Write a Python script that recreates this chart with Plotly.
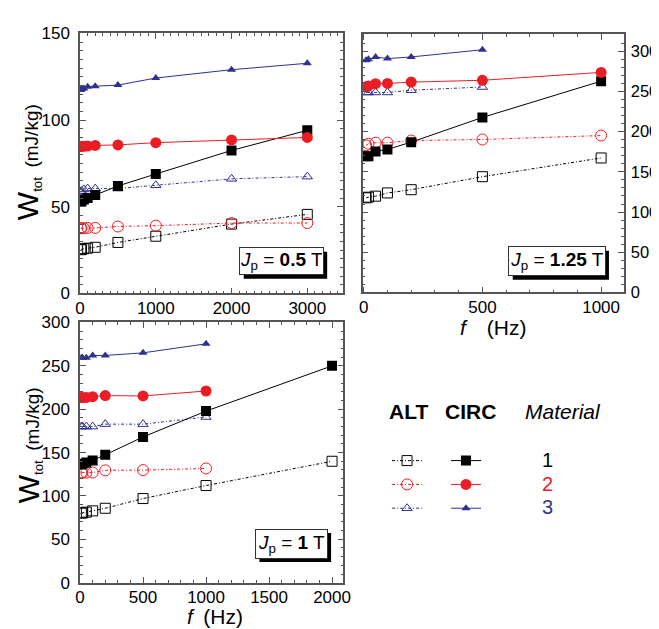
import plotly.graph_objects as go

# ---------------- data ----------------
# Panel A: Jp = 0.5 T
fA = [10, 20, 50, 100, 200, 500, 1000, 2000, 3000]
A_alt1 = [25.2, 25.5, 25.8, 26.1, 26.6, 29.4, 33.0, 40.0, 45.6]
A_alt2 = [37.6, 37.6, 37.6, 37.8, 37.8, 38.6, 39.1, 40.6, 40.6]
A_alt3 = [58.7, 59.0, 60.0, 60.5, 60.5, 60.5, 62.4, 66.1, 67.4]
A_circ1 = [53.1, 53.5, 54.2, 55.0, 56.8, 62.0, 68.9, 82.5, 94.1]
A_circ2 = [84.8, 84.8, 84.9, 85.0, 85.4, 85.7, 87.0, 88.6, 90.0]
A_circ3 = [117.4, 118.0, 118.3, 119.3, 119.6, 120.2, 124.3, 129.1, 132.8]

# Panel B: Jp = 1.25 T
fB = [10, 20, 50, 100, 200, 500, 1000]
B_alt1 = [117.7, 118.5, 119.8, 123.8, 127.8, 144.0, 167.3]
B_alt2 = [183.0, 185.0, 186.3, 186.3, 189.0, 190.3, 195.2]
B_alt3 = [248.8, 248.8, 248.8, 248.8, 251.6, 255.6, None]
B_circ1 = [169.4, 169.4, 175.4, 178.0, 187.0, 217.7, 262.9]
B_circ2 = [256.0, 257.0, 259.7, 260.0, 261.7, 264.0, 273.8]
B_circ3 = [289.0, 290.0, 293.0, 291.0, 293.0, 302.0, None]

# Panel C: Jp = 1 T
fC = [10, 20, 50, 100, 200, 500, 1000, 2000]
C_alt1 = [80.2, 80.5, 81.3, 82.8, 85.8, 97.0, 112.0, 140.0]
C_alt2 = [126.9, 126.9, 126.9, 127.0, 129.5, 129.8, 131.7, None]
C_alt3 = [180.0, 180.0, 180.0, 180.0, 182.8, 182.8, 191.0, None]
C_circ1 = [136.2, 137.0, 138.5, 141.0, 147.4, 168.0, 197.8, 250.0]
C_circ2 = [213.4, 213.4, 213.6, 214.5, 215.7, 215.3, 221.0, None]
C_circ3 = [259.3, 259.3, 259.3, 262.0, 262.0, 265.0, 275.4, None]

materials = ["1", "2", "3"]
panel_labels = ["0.5", "1.25", "1"]

# ---------------- style ----------------
FONT = "Liberation Sans, Arial, Helvetica, sans-serif"
BLACK = "#000000"
RED = "#ec1c24"
BLUE = "#2e3192"
colors = [BLACK, RED, BLUE]
alt_sym = ["square-open", "circle-open", "triangle-up-open"]
circ_sym = ["square", "circle", "triangle-up"]
alt_size = [10, 11, 9]
circ_size = [10, 11, 8]
W, H = 659, 629

fig = go.Figure()

panels = [
    ("x", "y", fA, [A_alt1, A_alt2, A_alt3], [A_circ1, A_circ2, A_circ3], True),
    ("x2", "y2", fB, [B_alt1, B_alt2, B_alt3], [B_circ1, B_circ2, B_circ3], False),
    ("x3", "y3", fC, [C_alt1, C_alt2, C_alt3], [C_circ1, C_circ2, C_circ3], False),
]

for xa, ya, f, alts, circs, show in panels:
    for i in range(3):
        fig.add_trace(go.Scatter(
            x=f, y=alts[i], xaxis=xa, yaxis=ya, mode="lines+markers",
            line=dict(color=colors[i], width=1, dash="3px,2px,1px,2px"),
            marker=dict(symbol=alt_sym[i], size=alt_size[i], color=colors[i],
                        line=dict(width=1, color=colors[i])),
            name="", showlegend=show, legend="legend", connectgaps=False))
    for i in range(3):
        fig.add_trace(go.Scatter(
            x=f, y=circs[i], xaxis=xa, yaxis=ya, mode="lines+markers",
            line=dict(color=colors[i], width=1),
            marker=dict(symbol=circ_sym[i], size=circ_size[i], color=colors[i]),
            name="\u2003\u2003\u2003\u2002<span style='font-size:20px;color:%s'>%s</span>" % (colors[i], materials[i]),
            showlegend=show, legend="legend2", connectgaps=False))


def px_x(p):
    return p / W


def px_y(p):
    return 1 - p / H


def axis(dom, rng, dtick, mdtick, anchor, side=None, standoff=0, fsize=17):
    d = dict(domain=dom, range=rng, dtick=dtick, tick0=0, anchor=anchor,
             showline=True, linecolor="#555555", linewidth=1.5, mirror="allticks",
             ticks="inside", ticklen=6, tickwidth=1.2, tickcolor="#555555",
             showgrid=False, zeroline=False,
             tickfont=dict(size=fsize, color="black", family=FONT),
             ticklabelstandoff=standoff,
             minor=dict(ticks="inside", ticklen=3, tickwidth=1, tickcolor="#555555",
                        dtick=mdtick, tick0=0, showgrid=False))
    if side:
        d["side"] = side
    return d


fig.update_layout(
    width=W, height=H, autosize=False,
    margin=dict(l=0, r=0, t=0, b=0),
    paper_bgcolor="white", plot_bgcolor="white",
    font=dict(family=FONT, color="black"),
    xaxis=axis([px_x(68.3), px_x(336)], [0, 3470], 1000, 100, "y", standoff=-2),
    yaxis=axis([px_y(285), px_y(17)], [0, 150], 50, 5, "x", standoff=5),
    xaxis2=axis([px_x(356), px_x(622)], [-5, 1095], 500, 100, "y2", standoff=-2),
    yaxis2=axis([px_y(284), px_y(18)], [0, 321], 50, 10, "x2", side="right", standoff=2, fsize=16.5),
    xaxis3=axis([px_x(68.3), px_x(336.5)], [0, 2090], 500, 100, "y3", standoff=-2),
    yaxis3=axis([px_y(583.3), px_y(315)], [0, 300], 50, 10, "x3", standoff=5),
    legend=dict(x=px_x(381), y=px_y(440), xanchor="left", yanchor="top",
                font=dict(size=16, family=FONT), bgcolor="rgba(0,0,0,0)",
                tracegroupgap=0, itemclick=False),
    legend2=dict(x=px_x(441), y=px_y(440), xanchor="left", yanchor="top",
                 font=dict(size=16, family=FONT), bgcolor="rgba(0,0,0,0)",
                 tracegroupgap=0, itemclick=False),
)

ann = []
shapes = []
# y axis titles
ytitle = "<span style='font-size:30px'>W</span><sub>tot</sub>\u2002(mJ/kg)"
for cy in (150, 442):
    ann.append(dict(x=px_x(16), y=px_y(cy), xref="paper", yref="paper", text=ytitle,
                    textangle=-90, showarrow=False, font=dict(size=19, family=FONT),
                    xanchor="center", yanchor="middle"))
# x axis titles
ann.append(dict(x=px_x(489), y=px_y(320), xref="paper", yref="paper",
                text="<i>f</i>\u2003(Hz)", showarrow=False,
                font=dict(size=21, family=FONT), xanchor="center", yanchor="middle"))
ann.append(dict(x=px_x(206), y=px_y(618), xref="paper", yref="paper",
                text="<i>f</i>\u2002(Hz)", showarrow=False,
                font=dict(size=21, family=FONT), xanchor="center", yanchor="middle"))

# Jp boxes with drop shadow (center x, center y, width, height in px)
boxes = [(273.5, 252, 85, 28, panel_labels[0]),
         (554, 252, 98, 30, panel_labels[1]),
         (283.5, 543, 73, 30, panel_labels[2])]
SH = 4
for cx, cy, bw, bh, lab in boxes:
    x0, x1 = cx - bw / 2, cx + bw / 2
    y0, y1 = cy - bh / 2, cy + bh / 2
    shapes.append(dict(type="rect", xref="paper", yref="paper",
                       x0=px_x(x0 + SH), x1=px_x(x1 + SH), y0=px_y(y1 + SH), y1=px_y(y0 + SH),
                       fillcolor="black", line=dict(width=0), layer="above"))
    txt = "<i>J</i><sub>p</sub> = <b>%s</b> T" % lab
    ann.append(dict(x=px_x(cx), y=px_y(cy), xref="paper", yref="paper", text=txt,
                    showarrow=False, font=dict(size=19, family=FONT, color="black"),
                    bgcolor="white", bordercolor="#333333", borderwidth=1, borderpad=1,
                    width=bw - 4, height=bh - 4,
                    xanchor="center", yanchor="middle"))

# legend headers
ann.append(dict(x=px_x(403), y=px_y(407), xref="paper", yref="paper", text="<b>ALT</b>",
                showarrow=False, font=dict(size=21, family=FONT), xanchor="center", yanchor="middle"))
ann.append(dict(x=px_x(466), y=px_y(407), xref="paper", yref="paper", text="<b>CIRC</b>",
                showarrow=False, font=dict(size=21, family=FONT), xanchor="center", yanchor="middle"))
ann.append(dict(x=px_x(560), y=px_y(407), xref="paper", yref="paper", text="<i>Material</i>",
                showarrow=False, font=dict(size=21, family=FONT), xanchor="center", yanchor="middle"))

fig.update_layout(annotations=ann, shapes=shapes)
fig.write_html("out.html")
